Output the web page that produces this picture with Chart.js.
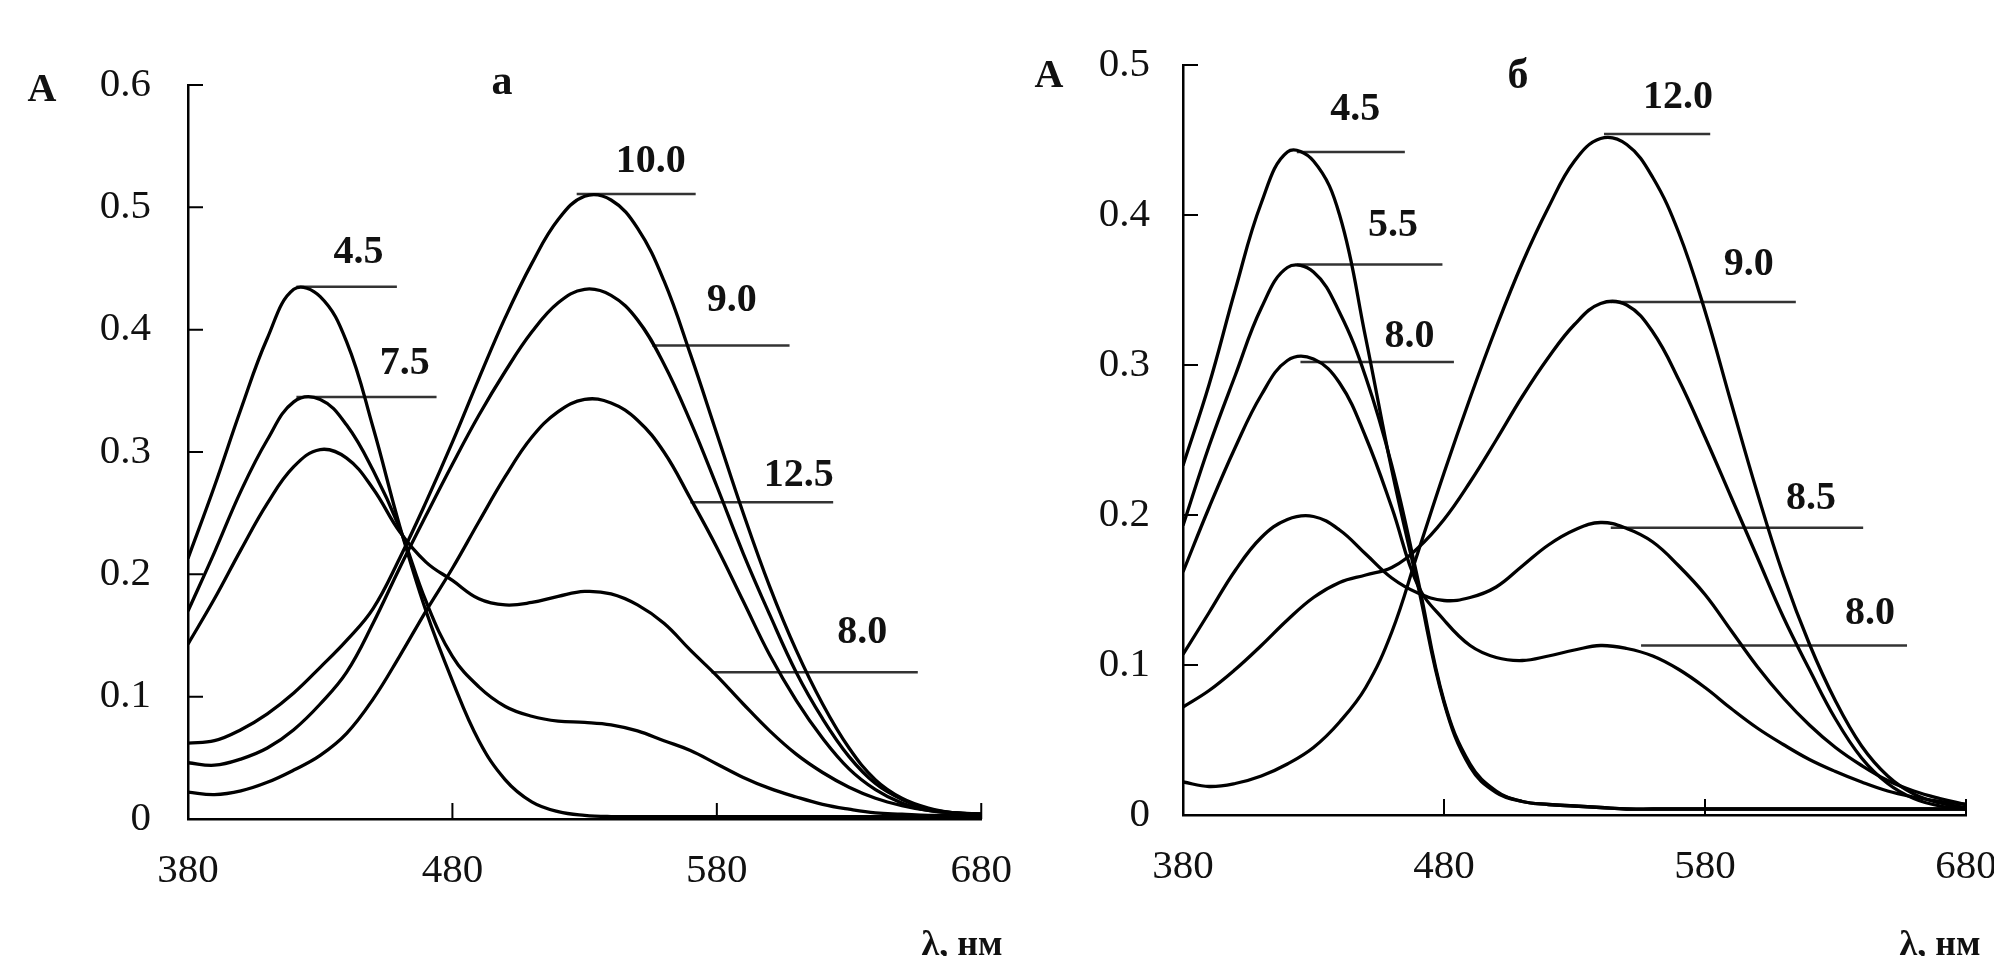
<!DOCTYPE html>
<html>
<head>
<meta charset="utf-8">
<script src="https://cdn.jsdelivr.net/npm/chart.js@4.4.1/dist/chart.umd.min.js"></script>
<style>
  html, body { margin: 0; padding: 0; background: #fff; }
  body { position: relative; width: 1994px; height: 956px; overflow: hidden; font-family: "Liberation Serif", "Times New Roman", serif; }
  canvas { position: absolute; top: 0; }
  #chart-a { left: 0; }
  #chart-b { left: 960px; }
  .txt { position: absolute; font-weight: bold; color: #111; line-height: 1; white-space: nowrap; transform: translate(-50%, -50%); }
  .unit { transform: translate(-50%, 0); }
</style>
</head>
<body>
<canvas id="chart-a" width="1040" height="956"></canvas>
<canvas id="chart-b" width="1080" height="956"></canvas>

<div class="txt" style="left:42px; top:88px; font-size:40px;">A</div>
<div class="txt" style="left:502px; top:80px; font-size:42px;">а</div>
<div class="txt unit" style="left:962px; top:925px; font-size:36px;">λ, нм</div>

<div class="txt" style="left:1049px; top:74px; font-size:40px;">A</div>
<div class="txt" style="left:1518px; top:74px; font-size:42px;">б</div>
<div class="txt unit" style="left:1940px; top:925px; font-size:36px;">λ, нм</div>

<script>
// wavelength grid, nm
const wavelengths = [380, 390, 400, 410, 420, 430, 440, 450, 460, 470, 480, 490, 500, 510, 520,
                     530, 540, 550, 560, 570, 580, 590, 600, 610, 620, 630, 640, 650, 660, 670, 680];
const xTicks = [380, 480, 580, 680];
const yTicksA = [0, 0.1, 0.2, 0.3, 0.4, 0.5, 0.6];
const yTicksB = [0, 0.1, 0.2, 0.3, 0.4, 0.5];

// panel a, absorbance by pH
const a_pH45 = [0.213, 0.272, 0.335, 0.393, 0.433, 0.427, 0.39, 0.32, 0.24, 0.17, 0.113, 0.064, 0.032, 0.014, 0.006,
                0.003, 0.002, 0.002, 0.002, 0.002, 0.002, 0.002, 0.002, 0.002, 0.002, 0.002, 0.002, 0.002, 0.002, 0.002, 0.002];
const a_pH75 = [0.17, 0.218, 0.268, 0.31, 0.341, 0.343, 0.322, 0.285, 0.238, 0.178, 0.133, 0.108, 0.092, 0.084, 0.08,
                0.079, 0.077, 0.072, 0.064, 0.056, 0.045, 0.034, 0.025, 0.018, 0.012, 0.008, 0.005, 0.004, 0.003, 0.003, 0.003];
const a_pH80 = [0.143, 0.18, 0.22, 0.258, 0.288, 0.302, 0.295, 0.27, 0.235, 0.21, 0.195, 0.18, 0.175, 0.177, 0.182,
                0.186, 0.184, 0.175, 0.16, 0.138, 0.117, 0.094, 0.072, 0.053, 0.038, 0.026, 0.017, 0.011, 0.007, 0.005, 0.004];
const a_pH100 = [0.062, 0.064, 0.073, 0.086, 0.103, 0.124, 0.146, 0.172, 0.213, 0.259, 0.308, 0.36, 0.41, 0.454, 0.49,
                 0.509, 0.506, 0.483, 0.44, 0.38, 0.315, 0.25, 0.19, 0.138, 0.094, 0.058, 0.032, 0.017, 0.009, 0.005, 0.004];
const a_pH90 = [0.046, 0.044, 0.049, 0.058, 0.073, 0.094, 0.12, 0.16, 0.205, 0.248, 0.29, 0.33, 0.366, 0.398, 0.422,
                0.433, 0.428, 0.408, 0.372, 0.325, 0.272, 0.217, 0.167, 0.12, 0.082, 0.051, 0.029, 0.016, 0.008, 0.005, 0.004];
const a_pH125 = [0.022, 0.02, 0.023, 0.03, 0.04, 0.052, 0.07, 0.098, 0.133, 0.17, 0.205, 0.243, 0.28, 0.312, 0.333,
                 0.343, 0.34, 0.326, 0.3, 0.262, 0.222, 0.178, 0.134, 0.097, 0.066, 0.041, 0.024, 0.013, 0.007, 0.005, 0.004];

// panel б
const b_pH45 = [0.233, 0.287, 0.35, 0.408, 0.442, 0.436, 0.4, 0.318, 0.23, 0.153, 0.075, 0.032, 0.015, 0.009, 0.007,
                0.006, 0.005, 0.004, 0.004, 0.004, 0.004, 0.004, 0.004, 0.004, 0.004, 0.004, 0.004, 0.004, 0.004, 0.004, 0.004];
const b_pH55 = [0.193, 0.246, 0.293, 0.338, 0.365, 0.362, 0.335, 0.292, 0.233, 0.157, 0.076, 0.034, 0.016, 0.009, 0.007,
                0.006, 0.005, 0.004, 0.004, 0.004, 0.004, 0.004, 0.004, 0.004, 0.004, 0.004, 0.004, 0.004, 0.004, 0.004, 0.004];
const b_pH80 = [0.162, 0.205, 0.245, 0.28, 0.303, 0.304, 0.288, 0.252, 0.205, 0.153, 0.13, 0.113, 0.105, 0.103, 0.106,
                0.11, 0.113, 0.111, 0.106, 0.097, 0.085, 0.071, 0.058, 0.047, 0.037, 0.029, 0.022, 0.016, 0.012, 0.009, 0.007];
const b_pH85 = [0.107, 0.135, 0.163, 0.185, 0.197, 0.199, 0.19, 0.174, 0.158, 0.148, 0.143, 0.145, 0.152, 0.166, 0.18,
                0.19, 0.195, 0.191, 0.182, 0.166, 0.147, 0.123, 0.099, 0.078, 0.06, 0.045, 0.033, 0.023, 0.016, 0.011, 0.007];
const b_pH90 = [0.072, 0.083, 0.097, 0.113, 0.13, 0.145, 0.155, 0.16, 0.165, 0.178, 0.197, 0.222, 0.25, 0.279, 0.305,
                0.327, 0.341, 0.34, 0.322, 0.29, 0.252, 0.212, 0.172, 0.132, 0.097, 0.064, 0.038, 0.021, 0.011, 0.006, 0.004];
const b_pH120 = [0.022, 0.019, 0.021, 0.026, 0.034, 0.045, 0.062, 0.085, 0.122, 0.175, 0.228, 0.278, 0.325, 0.368, 0.405,
                 0.436, 0.451, 0.447, 0.425, 0.388, 0.336, 0.275, 0.215, 0.16, 0.114, 0.076, 0.046, 0.026, 0.014, 0.008, 0.005];

// pH labels with their leader lines (x in nm, y in absorbance)
const a_labels = ['4.5', '7.5', '10.0', '9.0', '12.5', '8.0'];
const a_labelX = [444.5, 462, 555, 585.6, 611, 635];
const a_labelY = [0.463, 0.372, 0.537, 0.424, 0.281, 0.152];
const a_leadFrom = [421, 421, 527, 555.6, 570, 578];
const a_leadTo = [459, 474, 572, 607.5, 624, 656];
const a_leadAt = [0.435, 0.345, 0.511, 0.387, 0.259, 0.12];

const b_labels = ['4.5', '5.5', '8.0', '12.0', '9.0', '8.5', '8.0'];
const b_labelX = [446, 460.5, 466.8, 569.7, 596.8, 620.6, 643.2];
const b_labelY = [0.47, 0.393, 0.319, 0.478, 0.367, 0.211, 0.134];
const b_leadFrom = [423.6, 423.6, 425, 541.3, 543.9, 543.9, 555.5];
const b_leadTo = [465, 479.4, 483.8, 582, 614.8, 640.6, 657.4];
const b_leadAt = [0.442, 0.367, 0.302, 0.454, 0.342, 0.1915, 0.113];

const serif = '"Liberation Serif", "Times New Roman", serif';

function curveSet(values) {
    return {
        data: wavelengths.map((w, i) => ({ x: w, y: values[i] })),
        borderColor: '#000',
        borderWidth: 3.3,
        pointRadius: 0,
        tension: 0.4,
        fill: false
    };
}

function leaderSet(x0, x1, y) {
    return {
        data: [{ x: x0, y: y }, { x: x1, y: y }],
        borderColor: '#333',
        borderWidth: 2.5,
        pointRadius: 0,
        tension: 0,
        fill: false
    };
}

// tick marks point into the plot, not outward
const innerTicksPlugin = {
    id: 'innerTicks',
    afterDraw(chart) {
        const { ctx, chartArea: area, scales: { x, y } } = chart;
        ctx.save();
        ctx.strokeStyle = '#000';
        ctx.lineWidth = 2;
        ctx.beginPath();
        x.ticks.forEach(t => {
            const px = x.getPixelForValue(t.value);
            ctx.moveTo(px, area.bottom);
            ctx.lineTo(px, area.bottom - 16);
        });
        y.ticks.forEach(t => {
            const py = y.getPixelForValue(t.value);
            ctx.moveTo(area.left, py);
            ctx.lineTo(area.left + 15, py);
        });
        ctx.stroke();
        ctx.restore();
    }
};

const peakLabelPlugin = {
    id: 'peakLabels',
    afterDatasetsDraw(chart, args, opts) {
        const { ctx, scales: { x, y } } = chart;
        ctx.save();
        ctx.font = 'bold 40px ' + serif;
        ctx.fillStyle = '#111';
        ctx.textAlign = 'center';
        ctx.textBaseline = 'middle';
        opts.text.forEach((t, i) => {
            ctx.fillText(t, x.getPixelForValue(opts.x[i]), y.getPixelForValue(opts.y[i]));
        });
        ctx.restore();
    }
};

function makePanel(canvasId, layout, series, yMax, yTicks, labels) {
    const datasets = series.map(curveSet);
    labels.from.forEach((x0, i) => datasets.push(leaderSet(x0, labels.to[i], labels.at[i])));

    return new Chart(document.getElementById(canvasId).getContext('2d'), {
        type: 'line',
        data: { datasets: datasets },
        options: {
            responsive: false,
            animation: false,
            devicePixelRatio: 1,
            layout: { padding: { top: layout.top, right: layout.right, bottom: 0, left: 0 } },
            plugins: {
                legend: { display: false },
                tooltip: { enabled: false },
                peakLabels: { text: labels.text, x: labels.x, y: labels.y }
            },
            scales: {
                x: {
                    type: 'linear',
                    min: 380,
                    max: 680,
                    afterBuildTicks: s => { s.ticks = xTicks.map(v => ({ value: v })); },
                    afterFit: s => { s.height = layout.xHeight; },
                    ticks: { color: '#111', font: { family: serif, size: 41 }, padding: 28, maxRotation: 0, autoSkip: false },
                    grid: { display: false, drawTicks: false },
                    border: { display: true, color: '#000', width: 2.5 }
                },
                y: {
                    min: 0,
                    max: yMax,
                    afterBuildTicks: s => { s.ticks = yTicks.map(v => ({ value: v })); },
                    afterFit: s => { s.width = layout.yWidth; },
                    ticks: {
                        color: '#111',
                        font: { family: serif, size: 41 },
                        padding: layout.yPad,
                        callback: v => v === 0 ? '0' : v.toFixed(1)
                    },
                    grid: { display: false, drawTicks: false },
                    border: { display: true, color: '#000', width: 2.5 }
                }
            }
        },
        plugins: [innerTicksPlugin, peakLabelPlugin]
    });
}

makePanel('chart-a',
    { top: 85, right: 54, xHeight: 137, yWidth: 188, yPad: 37 },
    [a_pH45, a_pH75, a_pH80, a_pH100, a_pH90, a_pH125], 0.6, yTicksA,
    { text: a_labels, x: a_labelX, y: a_labelY, from: a_leadFrom, to: a_leadTo, at: a_leadAt });

makePanel('chart-b',
    { top: 65, right: 74, xHeight: 141, yWidth: 223, yPad: 33 },
    [b_pH45, b_pH55, b_pH80, b_pH85, b_pH90, b_pH120], 0.5, yTicksB,
    { text: b_labels, x: b_labelX, y: b_labelY, from: b_leadFrom, to: b_leadTo, at: b_leadAt });
</script>
</body>
</html>
